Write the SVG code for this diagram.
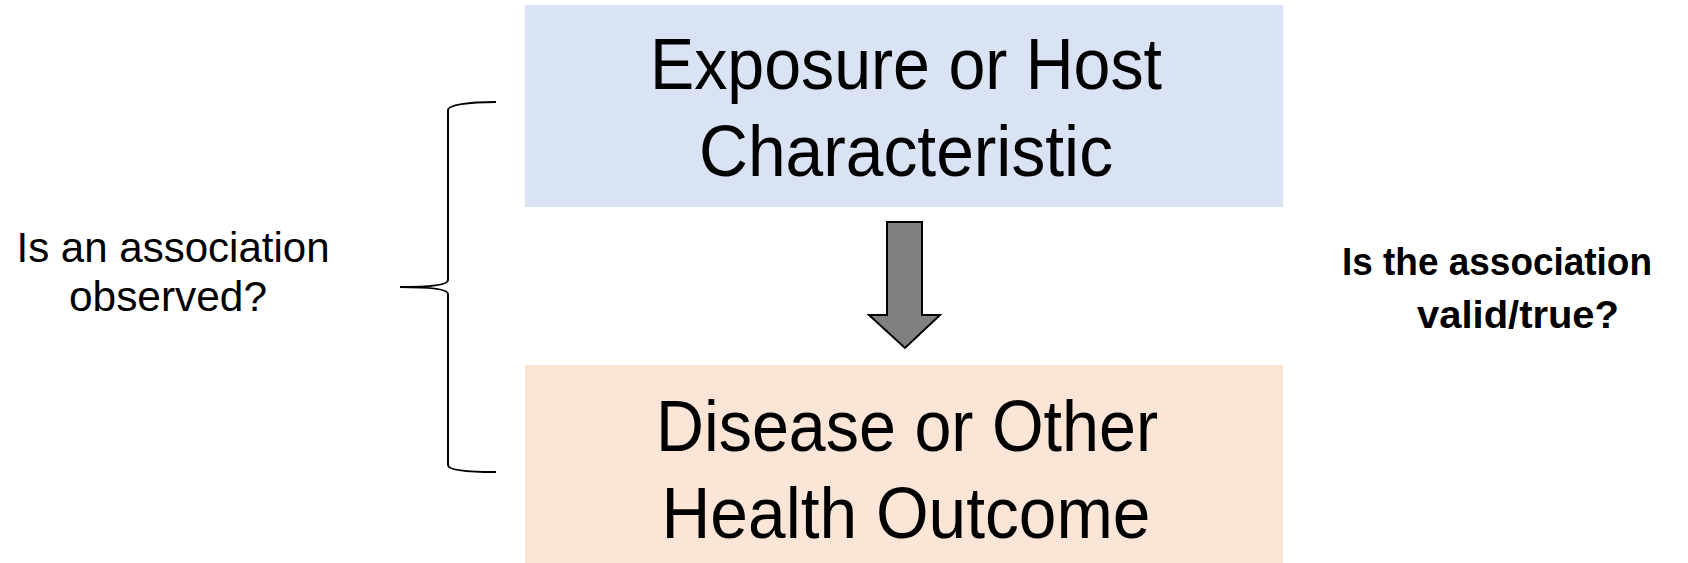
<svg xmlns="http://www.w3.org/2000/svg" width="1688" height="563" viewBox="0 0 1688 563">
<style>
.big{font-family:"Liberation Sans",Arial,sans-serif;font-size:73px;fill:#000;text-anchor:middle}
.lbl{font-family:"Liberation Sans",Arial,sans-serif;font-size:43px;fill:#000;text-anchor:middle}
.bold{font-family:"Liberation Sans",Arial,sans-serif;font-size:39px;font-weight:bold;fill:#000;text-anchor:middle}
</style>
<rect width="1688" height="563" fill="#fff"/>
<g id="exposure">
<rect x="525" y="5" width="758" height="202" fill="#DAE3F3"/>
<text class="big" x="906" y="89" textLength="512" lengthAdjust="spacingAndGlyphs">Exposure or Host</text>
<text class="big" x="906" y="176" textLength="414" lengthAdjust="spacingAndGlyphs">Characteristic</text>
</g>
<g id="outcome">
<rect x="525" y="365" width="758" height="198" fill="#FBE5D6"/>
<text class="big" x="907" y="451" textLength="502" lengthAdjust="spacingAndGlyphs">Disease or Other</text>
<text class="big" x="906" y="538" textLength="489" lengthAdjust="spacingAndGlyphs">Health Outcome</text>
</g>
<g id="connectors">
<path d="M887,222 L922,222 L922,315 L940,315 L905,348 L869,315 L887,315 Z" fill="#808080" stroke="#000" stroke-width="2" stroke-linejoin="miter"/>
</g>
<g id="brace">
<path d="M496,102 C468,102 448,105 448,110 L448,280 C448,285 428,287 400,287 C428,287 448,289 448,294 L448,465 C448,470 468,472 496,472" fill="none" stroke="#000" stroke-width="2"/>
</g>
<g id="observed">
<text class="lbl" x="173" y="262" textLength="313" lengthAdjust="spacingAndGlyphs">Is an association</text>
<text class="lbl" x="168" y="311" textLength="198" lengthAdjust="spacingAndGlyphs">observed?</text>
</g>
<g id="valid">
<text class="bold" x="1497" y="275" textLength="310" lengthAdjust="spacingAndGlyphs">Is the association</text>
<text class="bold" x="1518" y="328" textLength="202" lengthAdjust="spacingAndGlyphs">valid/true?</text>
</g>
</svg>
